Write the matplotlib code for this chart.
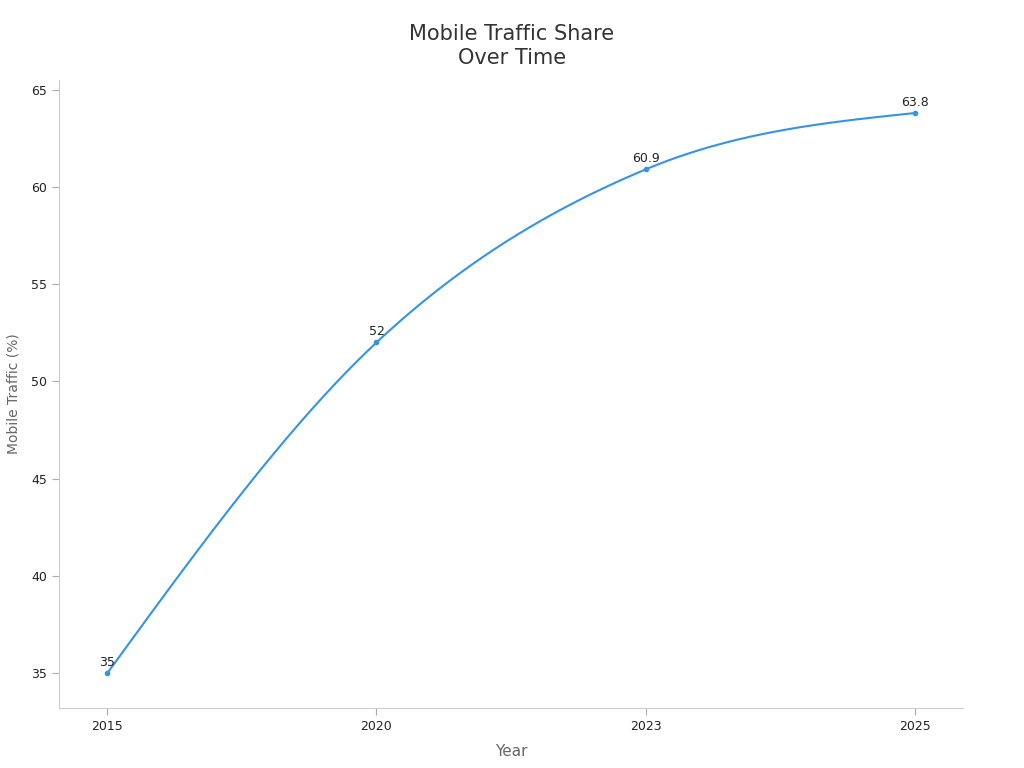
import matplotlib.pyplot as plt
import numpy as np

years = ["2015", "2020", "2023", "2025"]
share = [35, 52, 60.9, 63.8]
labels = ["35", "52", "60.9", "63.8"]


def monotone_curve(x, y, n=200):
    # monotone cubic (d3 monotoneX style), just for drawing the smooth line
    x = np.asarray(x, float)
    y = np.asarray(y, float)
    h = np.diff(x)
    d = np.diff(y) / h
    m = np.zeros_like(y)
    for i in range(1, len(y) - 1):
        if d[i - 1] * d[i] > 0:
            p = (d[i - 1] * h[i] + d[i] * h[i - 1]) / (h[i - 1] + h[i])
            m[i] = np.sign(d[i]) * min(abs(d[i - 1]), abs(d[i]), 0.5 * abs(p)) * 2
    m[0] = (3 * d[0] - m[1]) / 2
    m[-1] = (3 * d[-1] - m[-2]) / 2
    xs, ys = [], []
    for i in range(len(x) - 1):
        t = np.linspace(0, 1, n)
        h00 = 2 * t**3 - 3 * t**2 + 1
        h10 = t**3 - 2 * t**2 + t
        h01 = -2 * t**3 + 3 * t**2
        h11 = t**3 - t**2
        xs.append(x[i] + t * h[i])
        ys.append(h00 * y[i] + h10 * h[i] * m[i] + h01 * y[i + 1] + h11 * h[i] * m[i + 1])
    return np.concatenate(xs), np.concatenate(ys)


pos = np.arange(len(years))
fig = plt.figure(figsize=(10.24, 7.68), dpi=100)
ax = fig.add_axes([59 / 1024, 1 - 708 / 768, 904 / 1024, 628 / 768])

cx, cy = monotone_curve(pos, share)
ax.plot(cx, cy, color="#3593e5", lw=1.5)
ax.plot(pos, share, "o", color="#3593e5", ms=3)
for p, v, l in zip(pos, share, labels):
    ax.annotate(l, (p, v), xytext=(0, 3), textcoords="offset points",
                ha="center", va="bottom", fontsize=9, color="#222222")

ax.set_xlim(-0.18, 3.18)
ax.set_ylim(33.2, 65.5)
ax.set_xticks(pos)
ax.set_xticklabels(years)
ax.set_yticks([35, 40, 45, 50, 55, 60, 65])
ax.tick_params(labelsize=9, colors="#222222", length=5)
ax.tick_params(color="#aaaaaa")
for s in ["top", "right"]:
    ax.spines[s].set_visible(False)
for s in ["left", "bottom"]:
    ax.spines[s].set_color("#cccccc")
ax.set_xlabel("Year", fontsize=11, color="#666666", labelpad=8)
ax.set_ylabel("Mobile Traffic (%)", fontsize=10, color="#666666", labelpad=8)
fig.text(0.5, 1 - 46 / 768, "Mobile Traffic Share\nOver Time", ha="center", va="center",
         fontsize=15, color="#333333", linespacing=1.25)

fig.savefig("out.png", dpi=100)
